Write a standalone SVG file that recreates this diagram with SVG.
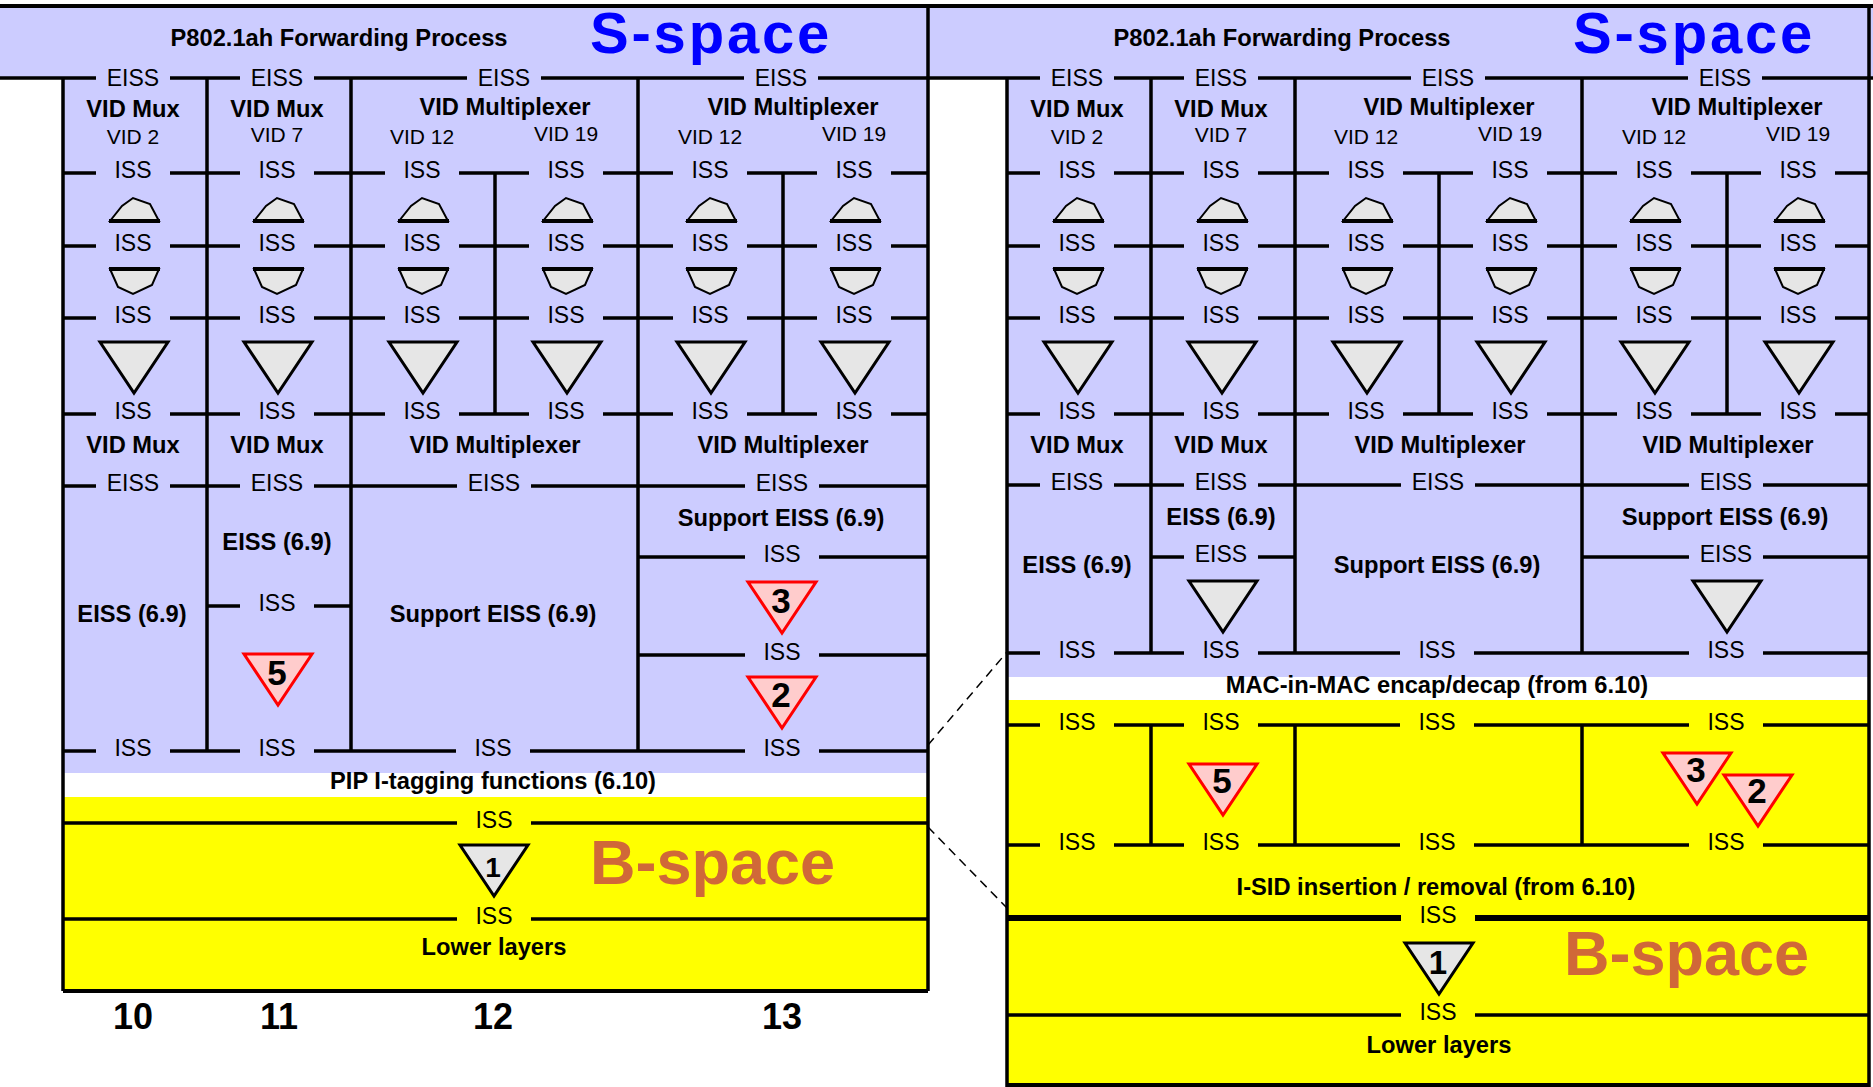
<svg xmlns="http://www.w3.org/2000/svg" xmlns:xlink="http://www.w3.org/1999/xlink" width="1873" height="1087" viewBox="0 0 1873 1087">
<style>
text{font-family:"Liberation Sans",Arial,sans-serif;text-anchor:middle;fill:#000}
.r{font-size:23px}
.v{font-size:21px}
.b{font-size:23.7px;font-weight:bold}
.n{font-size:35px;font-weight:bold}
.big{font-size:63px;font-weight:bold;text-anchor:start}
.ss{font-size:58px;font-weight:bold;text-anchor:start;letter-spacing:2.8px;fill:#0000ff}
.ln{stroke:#000;stroke-width:3.5;fill:none}
.gl{fill:#ccccff}
.gy{fill:#ffff00}
.gt{fill:#e6e6e6;stroke:#000;stroke-width:3}
.rt{fill:#ffcccc;stroke:#ff0000;stroke-width:3}
</style>
<defs>
<polygon id="tri" points="-34,0 34,0 0,51"/>
<g id="hump"><polygon points="-24,23 -12,8 -1,0 16,6 25,23" fill="#e6e6e6" stroke="#000" stroke-width="2"/><line x1="-25" y1="23" x2="26" y2="23" stroke="#000" stroke-width="4"/></g>
<g id="cup"><polygon points="-24,0 -16,18 -1,25 18,16 25,0" fill="#e6e6e6" stroke="#000" stroke-width="2"/><line x1="-25" y1="0" x2="26" y2="0" stroke="#000" stroke-width="4"/></g>
<rect id="gapL" x="-37" y="-5" width="74" height="10" fill="#ccccff"/>
<rect id="gapY" x="-37" y="-5" width="74" height="10" fill="#ffff00"/>
</defs>

<g id="backgrounds">
<rect x="0" y="6" width="928" height="72" fill="#ccccff"/>
<rect x="928" y="6" width="945" height="72" fill="#ccccff"/>
<rect x="63" y="78" width="865" height="695" fill="#ccccff"/>
<rect x="63" y="797" width="865" height="194" fill="#ffff00"/>
<rect x="1007" y="78" width="862" height="599" fill="#ccccff"/>
<rect x="1007" y="700" width="862" height="385" fill="#ffff00"/>
</g>

<g id="frame" class="ln">
<path d="M0 6H1873" stroke-width="4"/>
<path d="M0 78H928M63 78V991M207 78V751M351 78V751M638 78V751M928 6V991"/>
<path d="M63 991H928" stroke-width="4"/>
<path d="M63 173H928M63 246H928M63 318H928M63 414H928M495 173V414M783 173V414"/>
<path d="M63 486H928M638 557H928M207 606H351M638 655H928M63 751H928M63 823H928M63 919H928"/>
<path d="M928 78H1873M1007 78V1087M1151 78V653M1295 78V653M1582 78V653M1869 6V1087"/>
<path d="M1007 173H1869M1007 246H1869M1007 318H1869M1007 414H1869M1439 173V414M1727 173V414"/>
<path d="M1007 485H1869M1151 557H1295M1582 557H1869M1007 653H1869"/>
<path d="M1007 725H1869M1151 725V845M1295 725V845M1582 725V845M1007 845H1869M1007 1015H1869"/>
<path d="M1007 918H1869" stroke-width="6"/>
<path d="M1007 1085H1869" stroke-width="4"/>
</g>

<g id="gaps">
<use xlink:href="#gapL" x="133" y="78"/><use xlink:href="#gapL" x="277" y="78"/><use xlink:href="#gapL" x="504" y="78"/><use xlink:href="#gapL" x="781" y="78"/>
<use xlink:href="#gapL" x="133" y="173"/><use xlink:href="#gapL" x="277" y="173"/><use xlink:href="#gapL" x="422" y="173"/><use xlink:href="#gapL" x="566" y="173"/><use xlink:href="#gapL" x="710" y="173"/><use xlink:href="#gapL" x="854" y="173"/>
<use xlink:href="#gapL" x="133" y="246"/><use xlink:href="#gapL" x="277" y="246"/><use xlink:href="#gapL" x="422" y="246"/><use xlink:href="#gapL" x="566" y="246"/><use xlink:href="#gapL" x="710" y="246"/><use xlink:href="#gapL" x="854" y="246"/>
<use xlink:href="#gapL" x="133" y="318"/><use xlink:href="#gapL" x="277" y="318"/><use xlink:href="#gapL" x="422" y="318"/><use xlink:href="#gapL" x="566" y="318"/><use xlink:href="#gapL" x="710" y="318"/><use xlink:href="#gapL" x="854" y="318"/>
<use xlink:href="#gapL" x="133" y="414"/><use xlink:href="#gapL" x="277" y="414"/><use xlink:href="#gapL" x="422" y="414"/><use xlink:href="#gapL" x="566" y="414"/><use xlink:href="#gapL" x="710" y="414"/><use xlink:href="#gapL" x="854" y="414"/>
<use xlink:href="#gapL" x="133" y="486"/><use xlink:href="#gapL" x="277" y="486"/><use xlink:href="#gapL" x="494" y="486"/><use xlink:href="#gapL" x="782" y="486"/>
<use xlink:href="#gapL" x="782" y="557"/><use xlink:href="#gapL" x="277" y="606"/><use xlink:href="#gapL" x="782" y="655"/>
<use xlink:href="#gapL" x="133" y="751"/><use xlink:href="#gapL" x="277" y="751"/><use xlink:href="#gapL" x="493" y="751"/><use xlink:href="#gapL" x="782" y="751"/>
<use xlink:href="#gapY" x="494" y="823"/><use xlink:href="#gapY" x="494" y="919"/>
<use xlink:href="#gapL" x="1077" y="78"/><use xlink:href="#gapL" x="1221" y="78"/><use xlink:href="#gapL" x="1448" y="78"/><use xlink:href="#gapL" x="1725" y="78"/>
<use xlink:href="#gapL" x="1077" y="173"/><use xlink:href="#gapL" x="1221" y="173"/><use xlink:href="#gapL" x="1366" y="173"/><use xlink:href="#gapL" x="1510" y="173"/><use xlink:href="#gapL" x="1654" y="173"/><use xlink:href="#gapL" x="1798" y="173"/>
<use xlink:href="#gapL" x="1077" y="246"/><use xlink:href="#gapL" x="1221" y="246"/><use xlink:href="#gapL" x="1366" y="246"/><use xlink:href="#gapL" x="1510" y="246"/><use xlink:href="#gapL" x="1654" y="246"/><use xlink:href="#gapL" x="1798" y="246"/>
<use xlink:href="#gapL" x="1077" y="318"/><use xlink:href="#gapL" x="1221" y="318"/><use xlink:href="#gapL" x="1366" y="318"/><use xlink:href="#gapL" x="1510" y="318"/><use xlink:href="#gapL" x="1654" y="318"/><use xlink:href="#gapL" x="1798" y="318"/>
<use xlink:href="#gapL" x="1077" y="414"/><use xlink:href="#gapL" x="1221" y="414"/><use xlink:href="#gapL" x="1366" y="414"/><use xlink:href="#gapL" x="1510" y="414"/><use xlink:href="#gapL" x="1654" y="414"/><use xlink:href="#gapL" x="1798" y="414"/>
<use xlink:href="#gapL" x="1077" y="485"/><use xlink:href="#gapL" x="1221" y="485"/><use xlink:href="#gapL" x="1438" y="485"/><use xlink:href="#gapL" x="1726" y="485"/>
<use xlink:href="#gapL" x="1221" y="557"/><use xlink:href="#gapL" x="1726" y="557"/>
<use xlink:href="#gapL" x="1077" y="653"/><use xlink:href="#gapL" x="1221" y="653"/><use xlink:href="#gapL" x="1437" y="653"/><use xlink:href="#gapL" x="1726" y="653"/>
<use xlink:href="#gapY" x="1077" y="725"/><use xlink:href="#gapY" x="1221" y="725"/><use xlink:href="#gapY" x="1437" y="725"/><use xlink:href="#gapY" x="1726" y="725"/>
<use xlink:href="#gapY" x="1077" y="845"/><use xlink:href="#gapY" x="1221" y="845"/><use xlink:href="#gapY" x="1437" y="845"/><use xlink:href="#gapY" x="1726" y="845"/>
<use xlink:href="#gapY" x="1438" y="918"/><use xlink:href="#gapY" x="1438" y="1015"/>
</g>

<g id="connectors" fill="none" stroke="#000" stroke-width="1.5" stroke-dasharray="9,6">
<path d="M928 745L1007 652"/>
<path d="M928 827L1007 908"/>
</g>

<g id="left-header">
<text class="b" x="339" y="46">P802.1ah Forwarding Process</text>
<text class="ss" x="590" y="52.6">S-space</text>
</g>

<g id="left-col10">
<text class="r" x="133" y="86">EISS</text>
<text class="b" x="133" y="117">VID Mux</text>
<text class="v" x="133" y="144">VID 2</text>
<text class="r" x="133" y="178">ISS</text>
<use xlink:href="#hump" x="134" y="198"/>
<text class="r" x="133" y="251">ISS</text>
<use xlink:href="#cup" x="134" y="269"/>
<text class="r" x="133" y="323">ISS</text>
<use xlink:href="#tri" class="gt" x="134" y="342"/>
<text class="r" x="133" y="419">ISS</text>
<text class="b" x="133" y="453">VID Mux</text>
<text class="r" x="133" y="491">EISS</text>
<text class="b" x="132" y="622">EISS (6.9)</text>
<text class="r" x="133" y="756">ISS</text>
</g>

<g id="left-col11">
<text class="r" x="277" y="86">EISS</text>
<text class="b" x="277" y="117">VID Mux</text>
<text class="v" x="277" y="142">VID 7</text>
<text class="r" x="277" y="178">ISS</text>
<use xlink:href="#hump" x="278" y="198"/>
<text class="r" x="277" y="251">ISS</text>
<use xlink:href="#cup" x="278" y="269"/>
<text class="r" x="277" y="323">ISS</text>
<use xlink:href="#tri" class="gt" x="278" y="342"/>
<text class="r" x="277" y="419">ISS</text>
<text class="b" x="277" y="453">VID Mux</text>
<text class="r" x="277" y="491">EISS</text>
<text class="b" x="277" y="550">EISS (6.9)</text>
<text class="r" x="277" y="611">ISS</text>
<use xlink:href="#tri" class="rt" x="278" y="654"/>
<text class="n" x="277" y="685">5</text>
<text class="r" x="277" y="756">ISS</text>
</g>

<g id="left-col12">
<text class="r" x="504" y="86">EISS</text>
<text class="b" x="505" y="115">VID Multiplexer</text>
<text class="v" x="422" y="144">VID 12</text>
<text class="v" x="566" y="141">VID 19</text>
<text class="r" x="422" y="178">ISS</text><text class="r" x="566" y="178">ISS</text>
<use xlink:href="#hump" x="423" y="198"/><use xlink:href="#hump" x="567" y="198"/>
<text class="r" x="422" y="251">ISS</text><text class="r" x="566" y="251">ISS</text>
<use xlink:href="#cup" x="423" y="269"/><use xlink:href="#cup" x="567" y="269"/>
<text class="r" x="422" y="323">ISS</text><text class="r" x="566" y="323">ISS</text>
<use xlink:href="#tri" class="gt" x="423" y="342"/><use xlink:href="#tri" class="gt" x="567" y="342"/>
<text class="r" x="422" y="419">ISS</text><text class="r" x="566" y="419">ISS</text>
<text class="b" x="495" y="453">VID Multiplexer</text>
<text class="r" x="494" y="491">EISS</text>
<text class="b" x="493" y="622">Support EISS (6.9)</text>
<text class="r" x="493" y="756">ISS</text>
</g>

<g id="left-col13">
<text class="r" x="781" y="86">EISS</text>
<text class="b" x="793" y="115">VID Multiplexer</text>
<text class="v" x="710" y="144">VID 12</text>
<text class="v" x="854" y="141">VID 19</text>
<text class="r" x="710" y="178">ISS</text><text class="r" x="854" y="178">ISS</text>
<use xlink:href="#hump" x="711" y="198"/><use xlink:href="#hump" x="855" y="198"/>
<text class="r" x="710" y="251">ISS</text><text class="r" x="854" y="251">ISS</text>
<use xlink:href="#cup" x="711" y="269"/><use xlink:href="#cup" x="855" y="269"/>
<text class="r" x="710" y="323">ISS</text><text class="r" x="854" y="323">ISS</text>
<use xlink:href="#tri" class="gt" x="711" y="342"/><use xlink:href="#tri" class="gt" x="855" y="342"/>
<text class="r" x="710" y="419">ISS</text><text class="r" x="854" y="419">ISS</text>
<text class="b" x="783" y="453">VID Multiplexer</text>
<text class="r" x="782" y="491">EISS</text>
<text class="b" x="781" y="526">Support EISS (6.9)</text>
<text class="r" x="782" y="562">ISS</text>
<use xlink:href="#tri" class="rt" x="782" y="582"/>
<text class="n" x="781" y="613">3</text>
<text class="r" x="782" y="660">ISS</text>
<use xlink:href="#tri" class="rt" x="782" y="677"/>
<text class="n" x="781" y="707">2</text>
<text class="r" x="782" y="756">ISS</text>
</g>

<g id="left-bspace">
<text class="b" x="493" y="789">PIP I-tagging functions (6.10)</text>
<text class="r" x="494" y="828">ISS</text>
<use xlink:href="#tri" class="gt" x="494" y="845"/>
<text class="n" x="493" y="877" style="font-size:28px">1</text>
<text class="big" x="590" y="884" style="fill:#d06838">B-space</text>
<text class="r" x="494" y="924">ISS</text>
<text class="b" x="494" y="955">Lower layers</text>
</g>

<g id="column-numbers">
<text class="n" x="133" y="1029" style="font-size:36px">10</text>
<text class="n" x="279" y="1029" style="font-size:36px">11</text>
<text class="n" x="493" y="1029" style="font-size:36px">12</text>
<text class="n" x="782" y="1029" style="font-size:36px">13</text>
</g>

<g id="right-header">
<text class="b" x="1282" y="46">P802.1ah Forwarding Process</text>
<text class="ss" x="1573" y="52.6">S-space</text>
</g>

<g id="right-col10">
<text class="r" x="1077" y="86">EISS</text>
<text class="b" x="1077" y="117">VID Mux</text>
<text class="v" x="1077" y="144">VID 2</text>
<text class="r" x="1077" y="178">ISS</text>
<use xlink:href="#hump" x="1078" y="198"/>
<text class="r" x="1077" y="251">ISS</text>
<use xlink:href="#cup" x="1078" y="269"/>
<text class="r" x="1077" y="323">ISS</text>
<use xlink:href="#tri" class="gt" x="1078" y="342"/>
<text class="r" x="1077" y="419">ISS</text>
<text class="b" x="1077" y="453">VID Mux</text>
<text class="r" x="1077" y="490">EISS</text>
<text class="b" x="1077" y="573">EISS (6.9)</text>
<text class="r" x="1077" y="658">ISS</text>
</g>

<g id="right-col11">
<text class="r" x="1221" y="86">EISS</text>
<text class="b" x="1221" y="117">VID Mux</text>
<text class="v" x="1221" y="142">VID 7</text>
<text class="r" x="1221" y="178">ISS</text>
<use xlink:href="#hump" x="1222" y="198"/>
<text class="r" x="1221" y="251">ISS</text>
<use xlink:href="#cup" x="1222" y="269"/>
<text class="r" x="1221" y="323">ISS</text>
<use xlink:href="#tri" class="gt" x="1222" y="342"/>
<text class="r" x="1221" y="419">ISS</text>
<text class="b" x="1221" y="453">VID Mux</text>
<text class="r" x="1221" y="490">EISS</text>
<text class="b" x="1221" y="525">EISS (6.9)</text>
<text class="r" x="1221" y="562">EISS</text>
<use xlink:href="#tri" class="gt" x="1223" y="581"/>
<text class="r" x="1221" y="658">ISS</text>
</g>

<g id="right-col12">
<text class="r" x="1448" y="86">EISS</text>
<text class="b" x="1449" y="115">VID Multiplexer</text>
<text class="v" x="1366" y="144">VID 12</text>
<text class="v" x="1510" y="141">VID 19</text>
<text class="r" x="1366" y="178">ISS</text><text class="r" x="1510" y="178">ISS</text>
<use xlink:href="#hump" x="1367" y="198"/><use xlink:href="#hump" x="1511" y="198"/>
<text class="r" x="1366" y="251">ISS</text><text class="r" x="1510" y="251">ISS</text>
<use xlink:href="#cup" x="1367" y="269"/><use xlink:href="#cup" x="1511" y="269"/>
<text class="r" x="1366" y="323">ISS</text><text class="r" x="1510" y="323">ISS</text>
<use xlink:href="#tri" class="gt" x="1367" y="342"/><use xlink:href="#tri" class="gt" x="1511" y="342"/>
<text class="r" x="1366" y="419">ISS</text><text class="r" x="1510" y="419">ISS</text>
<text class="b" x="1440" y="453">VID Multiplexer</text>
<text class="r" x="1438" y="490">EISS</text>
<text class="b" x="1437" y="573">Support EISS (6.9)</text>
<text class="r" x="1437" y="658">ISS</text>
</g>

<g id="right-col13">
<text class="r" x="1725" y="86">EISS</text>
<text class="b" x="1737" y="115">VID Multiplexer</text>
<text class="v" x="1654" y="144">VID 12</text>
<text class="v" x="1798" y="141">VID 19</text>
<text class="r" x="1654" y="178">ISS</text><text class="r" x="1798" y="178">ISS</text>
<use xlink:href="#hump" x="1655" y="198"/><use xlink:href="#hump" x="1799" y="198"/>
<text class="r" x="1654" y="251">ISS</text><text class="r" x="1798" y="251">ISS</text>
<use xlink:href="#cup" x="1655" y="269"/><use xlink:href="#cup" x="1799" y="269"/>
<text class="r" x="1654" y="323">ISS</text><text class="r" x="1798" y="323">ISS</text>
<use xlink:href="#tri" class="gt" x="1655" y="342"/><use xlink:href="#tri" class="gt" x="1799" y="342"/>
<text class="r" x="1654" y="419">ISS</text><text class="r" x="1798" y="419">ISS</text>
<text class="b" x="1728" y="453">VID Multiplexer</text>
<text class="r" x="1726" y="490">EISS</text>
<text class="b" x="1725" y="525">Support EISS (6.9)</text>
<text class="r" x="1726" y="562">EISS</text>
<use xlink:href="#tri" class="gt" x="1727" y="581"/>
<text class="r" x="1726" y="658">ISS</text>
</g>

<g id="right-bspace">
<text class="b" x="1437" y="693">MAC-in-MAC encap/decap (from 6.10)</text>
<text class="r" x="1077" y="730">ISS</text><text class="r" x="1221" y="730">ISS</text><text class="r" x="1437" y="730">ISS</text><text class="r" x="1726" y="730">ISS</text>
<use xlink:href="#tri" class="rt" x="1223" y="764"/>
<text class="n" x="1222" y="793">5</text>
<use xlink:href="#tri" class="rt" x="1697" y="753"/>
<text class="n" x="1696" y="782">3</text>
<use xlink:href="#tri" class="rt" x="1758" y="775"/>
<text class="n" x="1757" y="803">2</text>
<text class="r" x="1077" y="850">ISS</text><text class="r" x="1221" y="850">ISS</text><text class="r" x="1437" y="850">ISS</text><text class="r" x="1726" y="850">ISS</text>
<text class="b" x="1436" y="895">I-SID insertion / removal (from 6.10)</text>
<text class="r" x="1438" y="923">ISS</text>
<use xlink:href="#tri" class="gt" x="1439" y="943"/>
<text class="n" x="1438" y="974" style="font-size:33px">1</text>
<text class="big" x="1564" y="975" style="fill:#d06838">B-space</text>
<text class="r" x="1438" y="1020">ISS</text>
<text class="b" x="1439" y="1053">Lower layers</text>
</g>
</svg>
